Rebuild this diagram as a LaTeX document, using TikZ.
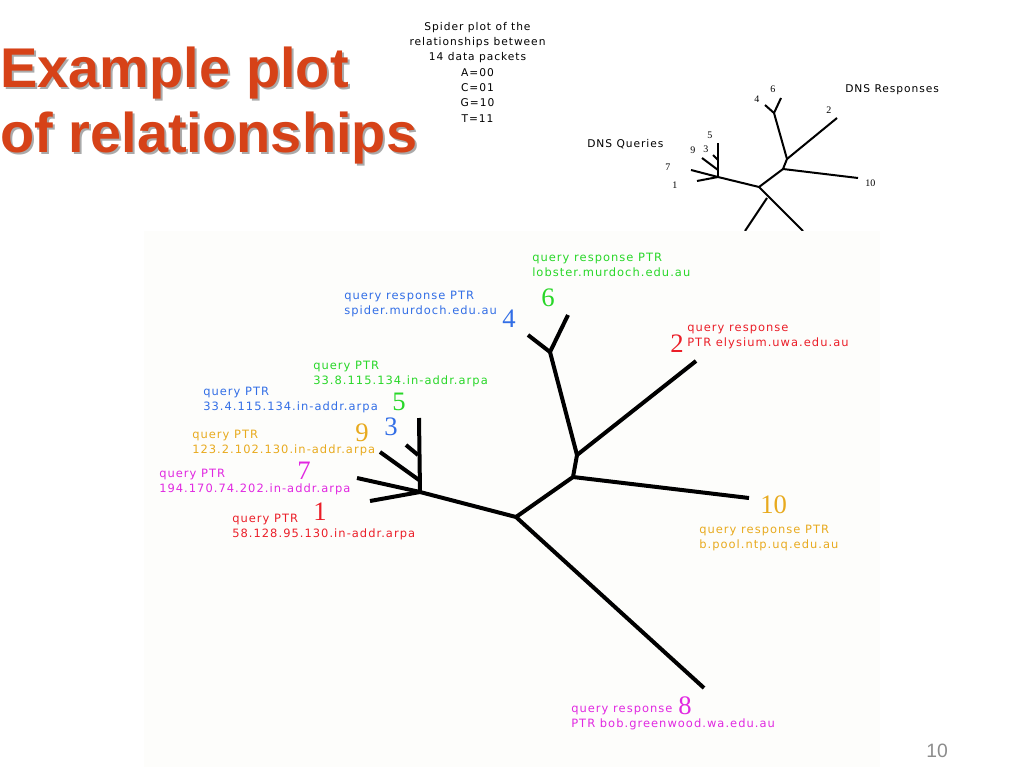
\documentclass[tikz,border=0pt]{standalone}
\usepackage{fontspec}
\setmainfont{DejaVu Sans}
\newfontfamily\titlefont{Liberation Sans}
\newfontfamily\numfont{Liberation Serif}
\newfontfamily\lblfont[LetterSpace=9]{DejaVu Sans}
\newfontfamily\topfont[LetterSpace=9]{DejaVu Sans}
\definecolor{titlered}{RGB}{214,66,24}
\definecolor{shadowgray}{RGB}{170,170,170}
\definecolor{lgreen}{RGB}{40,215,40}
\definecolor{lblue}{RGB}{50,110,230}
\definecolor{lred}{RGB}{235,30,40}
\definecolor{lorange}{RGB}{232,170,30}
\definecolor{lmagenta}{RGB}{225,40,225}
\definecolor{pagegray}{RGB}{140,140,140}
\definecolor{plotbg}{RGB}{253,253,251}
\tikzset{
  lbl/.style={anchor=base west, inner sep=0pt, align=left, font=\lblfont\fontsize{8.6}{11.25}\selectfont},
  bignum/.style={anchor=base west, inner sep=0pt, font=\numfont\fontsize{20}{20}\selectfont},
  smallnum/.style={anchor=base west, inner sep=0pt, font=\numfont\fontsize{7.5}{9}\selectfont},
  smalltxt/.style={anchor=base west, inner sep=0pt, font=\topfont\fontsize{8}{11.5}\selectfont},
  thick branch/.style={line width=3pt, line join=round},
  thin branch/.style={line width=1.5pt, line join=round},
  titletext/.style={anchor=base west, inner sep=0pt, align=left, font=\titlefont\bfseries\fontsize{42}{48.75}\selectfont},
}
\begin{document}
\begin{tikzpicture}[x=0.75pt,y=-0.75pt]
\useasboundingbox (0,0) rectangle (1023,767);
% title (anchor = baseline of last line)
\node[titletext, text=shadowgray] (titleshadow) at (2,154) {Example plot\\of relationships};
\node[titletext, text=titlered] (title) at (0,152) {Example plot\\of relationships};
% top caption
\node[anchor=base, inner sep=0pt, align=center, font=\topfont\fontsize{8}{11.5}\selectfont] (caption) at (477.5,122)
  {Spider plot of the\\relationships between\\14 data packets\\A=00\\C=01\\G=10\\T=11};
% small tree
\coordinate (q) at (718,177);
\coordinate (t5) at (718,143);
\coordinate (j3) at (718,160);
\coordinate (t3) at (713,155);
\coordinate (j9) at (718,170);
\coordinate (t9) at (702,158);
\coordinate (t7) at (691,170);
\coordinate (t1) at (697,181);
\coordinate (m) at (759,187);
\coordinate (n) at (783,169);
\coordinate (t10) at (858,178);
\coordinate (p) at (787,159);
\coordinate (t2) at (837,118);
\coordinate (r) at (774,113);
\coordinate (t6) at (781,98);
\coordinate (t4) at (765,105);
\coordinate (s) at (767,198);
\coordinate (sa) at (745,231);
\coordinate (sb) at (803,231);
\draw[thin branch] (t5) -- (q);
\draw[thin branch] (t3) -- (j3);
\draw[thin branch] (t9) -- (j9);
\draw[thin branch] (t7) -- (q);
\draw[thin branch] (t1) -- (q);
\draw[thin branch] (q) -- (m) -- (n) -- (p) -- (r);
\draw[thin branch] (n) -- (t10);
\draw[thin branch] (p) -- (t2);
\draw[thin branch] (r) -- (t6);
\draw[thin branch] (r) -- (t4);
\draw[thin branch] (m) -- (sb);
\draw[thin branch] (s) -- (sa);
\node[smallnum] (n6) at (770,93) {6};
\node[smallnum] (n4) at (754,102) {4};
\node[smallnum] (n2) at (826,113) {2};
\node[smallnum] (n5) at (707,138) {5};
\node[smallnum] (n9) at (690,153) {9};
\node[smallnum] (n3) at (703,152) {3};
\node[smallnum] (n7) at (665,170) {7};
\node[smallnum] (n1) at (672,188) {1};
\node[smallnum] (n10) at (865,186) {10};
\node[smalltxt] (dnsq) at (587,147) {DNS Queries};
\node[smalltxt] (dnsr) at (845,92) {DNS Responses};
% main plot background
\fill[plotbg] (144,231) rectangle (880,767);
% main tree
\coordinate (Q) at (420,492);
\coordinate (T5) at (419,418);
\coordinate (J3) at (418,455);
\coordinate (T3) at (406,445);
\coordinate (J9) at (419,480);
\coordinate (T9) at (380,452);
\coordinate (T7) at (357,478);
\coordinate (T1) at (370,501);
\coordinate (M) at (516,517);
\coordinate (T8) at (704,688);
\coordinate (N) at (573,477);
\coordinate (T10) at (749,498);
\coordinate (P) at (577,455);
\coordinate (T2) at (696,361);
\coordinate (R) at (550,352);
\coordinate (T6) at (568,315);
\coordinate (T4) at (528,335);
\draw[thick branch] (T5) -- (Q);
\draw[thick branch] (T3) -- (J3);
\draw[thick branch] (T9) -- (J9);
\draw[thick branch] (T7) -- (Q);
\draw[thick branch] (T1) -- (Q);
\draw[thick branch] (Q) -- (M) -- (N) -- (P) -- (R);
\draw[thick branch] (M) -- (T8);
\draw[thick branch] (N) -- (T10);
\draw[thick branch] (P) -- (T2);
\draw[thick branch] (R) -- (T6);
\draw[thick branch] (R) -- (T4);
% labels (anchor = baseline of second line)
\node[lbl, text=lgreen] (l6) at (532,276) {query response PTR\\lobster.murdoch.edu.au};
\node[bignum, text=lgreen] (d6) at (541,306) {6};
\node[lbl, text=lblue] (l4) at (344,314) {query response PTR\\spider.murdoch.edu.au};
\node[bignum, text=lblue] (d4) at (502,327) {4};
\node[lbl, text=lgreen] (l5) at (313,384) {query PTR\\33.8.115.134.in-addr.arpa};
\node[bignum, text=lgreen] (d5) at (392,410) {5};
\node[lbl, text=lblue] (l3) at (203,410) {query PTR\\33.4.115.134.in-addr.arpa};
\node[bignum, text=lblue] (d3) at (384,435) {3};
\node[lbl, text=lorange] (l9) at (192,453) {query PTR\\123.2.102.130.in-addr.arpa};
\node[bignum, text=lorange] (d9) at (355,441) {9};
\node[lbl, text=lmagenta] (l7) at (159,492) {query PTR\\194.170.74.202.in-addr.arpa};
\node[bignum, text=lmagenta] (d7) at (297,479) {7};
\node[lbl, text=lred] (l1) at (232,537) {query PTR\\58.128.95.130.in-addr.arpa};
\node[bignum, text=lred] (d1) at (313,520) {1};
\node[lbl, text=lred] (l2) at (687,346) {query response\\PTR elysium.uwa.edu.au};
\node[bignum, text=lred] (d2) at (670,352) {2};
\node[lbl, text=lorange] (l10) at (699,548) {query response PTR\\b.pool.ntp.uq.edu.au};
\node[bignum, text=lorange] (d10) at (760,513) {10};
\node[lbl, text=lmagenta] (l8) at (571,727) {query response\\PTR bob.greenwood.wa.edu.au};
\node[bignum, text=lmagenta] (d8) at (678,714) {8};
% page number
\node[anchor=base west, inner sep=0pt, text=pagegray, font=\titlefont\fontsize{14.5}{16}\selectfont] (pagenum) at (926,757) {10};
\end{tikzpicture}
\end{document}
